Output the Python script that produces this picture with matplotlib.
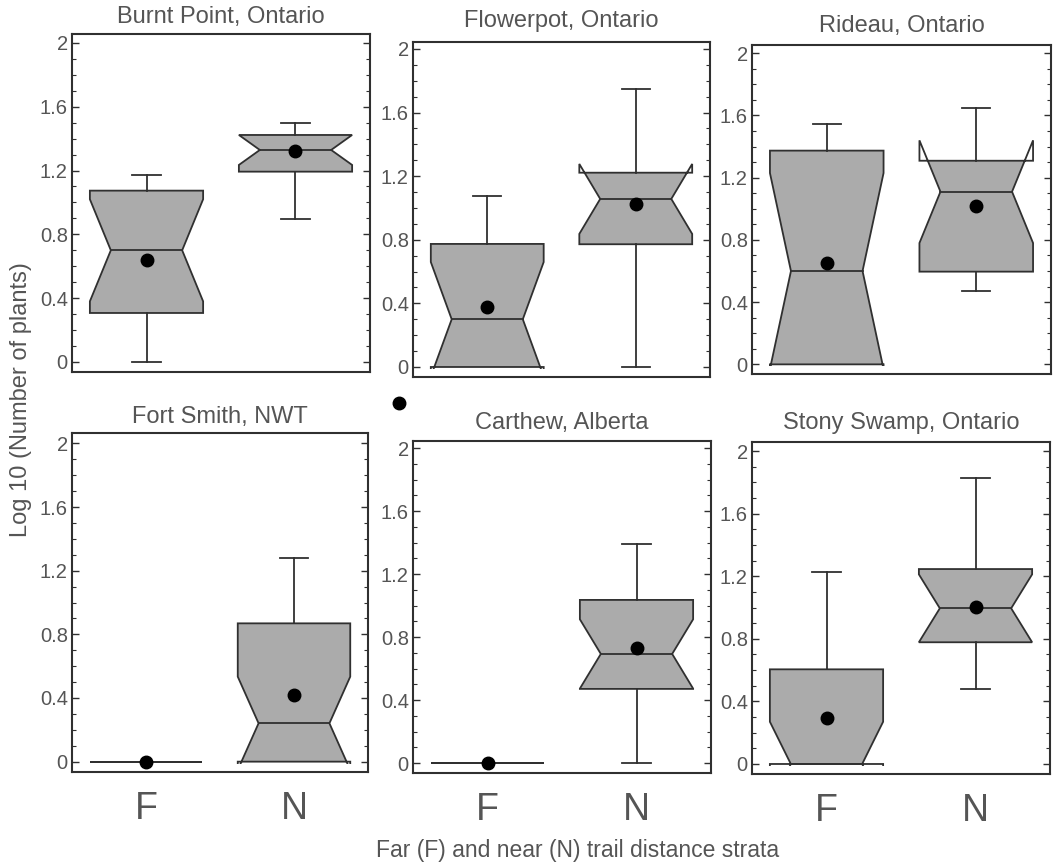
"""Notched box plots of log10 plant counts, far (F) vs near (N) trail strata, six sites."""

import matplotlib

matplotlib.use("Agg")
import matplotlib.pyplot as plt
from matplotlib.lines import Line2D
from matplotlib.patches import Polygon, Rectangle
from matplotlib.ticker import MultipleLocator

plt.rcParams["font.family"] = ["Liberation Sans", "DejaVu Sans"]

# ---- data -----------------------------------------------------------------
sites = [
    "Burnt Point, Ontario",
    "Flowerpot, Ontario",
    "Rideau, Ontario",
    "Fort Smith, NWT",
    "Carthew, Alberta",
    "Stony Swamp, Ontario",
]
strata = ["F", "N"]

# far stratum
far_lo = [0.0, 0.0, 0.0, 0.0, 0.0, 0.0]
far_q1 = [0.307, 0.0, 0.0, 0.0, 0.0, 0.0]
far_med = [0.70, 0.30, 0.60, 0.0, 0.0, 0.0]
far_q3 = [1.074, 0.774, 1.374, 0.0, 0.0, 0.605]
far_hi = [1.17, 1.075, 1.543, 0.0, 0.0, 1.229]
far_notch = [0.32, 0.36, 0.63, 0.0, 0.0, 0.27]  # half-width of median CI
far_mean = [0.64, 0.375, 0.653, 0.0, 0.0, 0.292]

# near stratum
near_lo = [0.897, 0.0, 0.471, 0.0, 0.0, 0.479]
near_q1 = [1.193, 0.772, 0.596, 0.0, 0.472, 0.778]
near_med = [1.329, 1.057, 1.11, 0.241, 0.694, 0.995]
near_q3 = [1.423, 1.222, 1.309, 0.869, 1.037, 1.246]
near_hi = [1.496, 1.747, 1.65, 1.278, 1.392, 1.83]
near_notch = [0.094, 0.22, 0.33, 0.293, 0.22, 0.217]
near_mean = [1.325, 1.025, 1.02, 0.419, 0.734, 1.005]

# stray mean marker sitting between the panels in the original
stray_dot = (0.378, 0.536)

# ---- layout ---------------------------------------------------------------
W, H = 1055, 868
# axes boxes in pixels: left, top, right, bottom
PANELS = [
    (72, 34, 370, 372),
    (413, 42, 710, 377),
    (752, 45, 1051, 374),
    (72, 433, 368, 772),
    (413, 441, 711, 773),
    (752, 442, 1050, 774),
]
YLIMS = [
    (-0.063, 2.056),
    (-0.063, 2.044),
    (-0.062, 2.053),
    (-0.065, 2.065),
    (-0.062, 2.046),
    (-0.064, 2.058),
]
TITLE_PADS = [8, 11, 9.5, 7.5, 9, 9]

BOX_W = 0.76
NOTCH_FRAC = 0.63
CAP_W = 0.19
FILL = "#ababab"
EDGE = "#303030"
TEXT = "#555555"
LW = 1.3


def draw_box(ax, x, lo, q1, med, q3, hi, half_ci, mean):
    hw = BOX_W / 2
    nw = hw * NOTCH_FRAC
    cilo, cihi = med - half_ci, med + half_ci
    verts = [
        (x - hw, q1), (x - hw, cilo), (x - nw, med), (x - hw, cihi), (x - hw, q3),
        (x + hw, q3), (x + hw, cihi), (x + nw, med), (x + hw, cilo), (x + hw, q1),
    ]
    # fill only between the hinges, so notch "ears" beyond the box stay white
    fill = Polygon(verts, closed=True, facecolor=FILL, edgecolor="none", zorder=2)
    ax.add_patch(fill)
    if q3 > q1:
        clip = Rectangle((x - hw, q1), BOX_W, q3 - q1, transform=ax.transData)
        fill.set_clip_path(clip)
    else:
        fill.set_visible(False)
    outline = Polygon(verts, closed=True, fill=False, edgecolor=EDGE, lw=LW,
                      joinstyle="miter", zorder=3)
    ax.add_patch(outline)
    floor = Rectangle((x - 1, -0.012), 2, 10, transform=ax.transData)
    outline.set_clip_path(floor)
    ax.plot([x - nw, x + nw], [med, med], color=EDGE, lw=LW, zorder=3)
    if hi > q3:
        ax.plot([x, x], [q3, hi], color=EDGE, lw=LW, zorder=3)
        ax.plot([x - CAP_W / 2, x + CAP_W / 2], [hi, hi], color=EDGE, lw=LW, zorder=3)
    if lo < q1:
        ax.plot([x, x], [lo, q1], color=EDGE, lw=LW, zorder=3)
        ax.plot([x - CAP_W / 2, x + CAP_W / 2], [lo, lo], color=EDGE, lw=LW, zorder=3)
    ax.plot([x], [mean], "o", color="black", ms=9, zorder=4)


fig = plt.figure(figsize=(W / 100, H / 100), dpi=100)
fig.patch.set_facecolor("white")

for i, site in enumerate(sites):
    left, top, right, bottom = PANELS[i]
    ax = fig.add_axes([left / W, 1 - bottom / H, (right - left) / W, (bottom - top) / H])
    draw_box(ax, 1, far_lo[i], far_q1[i], far_med[i], far_q3[i], far_hi[i],
             far_notch[i], far_mean[i])
    draw_box(ax, 2, near_lo[i], near_q1[i], near_med[i], near_q3[i], near_hi[i],
             near_notch[i], near_mean[i])

    ax.set_xlim(0.5, 2.5)
    ax.set_ylim(*YLIMS[i])
    ax.yaxis.set_major_locator(MultipleLocator(0.4))
    ax.yaxis.set_minor_locator(MultipleLocator(0.1))
    ax.set_yticks([0, 0.4, 0.8, 1.2, 1.6, 2.0])
    ax.set_yticklabels(["0", "0.4", "0.8", "1.2", "1.6", "2"])
    ax.tick_params(axis="y", which="both", direction="in", left=True, right=True,
                   color=EDGE, labelsize=14.5, labelcolor=TEXT, pad=3)
    ax.tick_params(axis="y", which="major", length=5, width=1.0)
    ax.tick_params(axis="y", which="minor", length=3, width=0.8)
    ax.set_xticks([1, 2])
    if i >= 3:
        ax.set_xticklabels(strata)
        ax.tick_params(axis="x", length=0, labelsize=27, labelcolor=TEXT, pad=14)
    else:
        ax.set_xticklabels([])
        ax.tick_params(axis="x", length=0)
    for sp in ax.spines.values():
        sp.set_color(EDGE)
        sp.set_linewidth(1.5)
    ax.set_title(site, fontsize=17, color=TEXT, pad=TITLE_PADS[i])

fig.text(21 / W, 1 - 400 / H, "Log 10 (Number of plants)", rotation=90,
         ha="center", va="center", fontsize=17, color=TEXT)
fig.text(578 / W, 1 - 850 / H, "Far (F) and near (N) trail distance strata",
         ha="center", va="center", fontsize=16.5, color=TEXT)
fig.add_artist(Line2D([stray_dot[0]], [stray_dot[1]], marker="o", color="black",
                      ms=9, transform=fig.transFigure))

fig.savefig("out.png", dpi=100)
